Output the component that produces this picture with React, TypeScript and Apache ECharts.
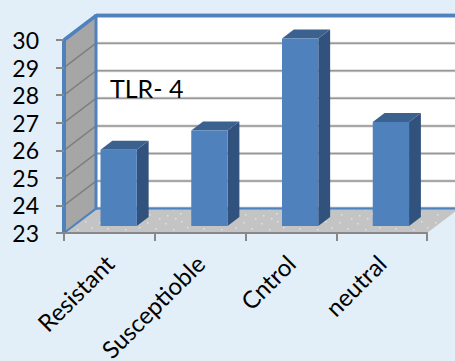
import React, { useEffect, useRef } from "react";
import * as echarts from "echarts";

const categories = ["Resistant", "Susceptioble", "Cntrol", "neutral"];
const tlr4Values = [25.76, 26.46, 29.8, 26.77];
const yTicks = [24, 25, 26, 27, 28, 29];
const yMin = 23;
const yMax = 30;
const chartTitle = "TLR- 4";

const DEPTH_X = 32;
const DEPTH_Y = -24.4;
const BAR_NEAR = 0.29;
const BAR_SPAN = 0.37;
const BAR_WIDTH_RATIO = 0.4;

const BLUE = "#4f81bd";
const HALO = "#a9c4e2";
const FONT = "Lato, Carlito, sans-serif";

function floorPattern() {
  const c = document.createElement("canvas");
  c.width = 48;
  c.height = 20;
  const g = c.getContext("2d") as CanvasRenderingContext2D;
  g.fillStyle = "#c4c4c4";
  g.fillRect(0, 0, 48, 20);
  g.fillStyle = "rgba(232,232,232,0.85)";
  const dots = [[3, 2], [21, 3], [37, 1], [11, 8], [29, 9], [43, 7], [5, 14], [23, 15], [36, 13], [15, 18], [31, 18]];
  dots.forEach(([x, y]) => g.fillRect(x, y, 1.5, 1.5));
  return c;
}

export default function App() {
  const ref = useRef<HTMLDivElement>(null);
  useEffect(() => {
    document.body.style.margin = "0";
    const chart = echarts.init(ref.current as HTMLDivElement, undefined, { renderer: "svg" });
    const pattern = floorPattern();

    const renderWalls = (params: any, api: any) => {
      const cs = params.coordSys;
      const l = cs.x, r = cs.x + cs.width, t = cs.y, b = cs.y + cs.height;
      const dx = DEPTH_X, dy = DEPTH_Y;
      const poly = (points: number[][], style: any) => ({ type: "polygon", shape: { points }, style });
      return {
        type: "group",
        children: [
          poly([[l + dx, t + dy], [r + dx, t + dy], [r + dx, b + dy], [l + dx, b + dy]], { fill: "#ffffff" }),
          poly([[l, t], [l + dx, t + dy], [l + dx, b + dy], [l, b]], { fill: "#a6a6a6" }),
          poly([[l, b], [l + dx, b + dy], [r + dx, b + dy], [r, b]], { fill: { image: pattern, repeat: "repeat" } }),
        ],
      };
    };

    const renderGrid = (params: any, api: any) => {
      const cs = params.coordSys;
      const p = api.coord([0, api.value(1)]);
      const l = cs.x, r = cs.x + cs.width, y = p[1];
      return {
        type: "group",
        children: [
          { type: "line", shape: { x1: l, y1: y, x2: l + DEPTH_X, y2: y + DEPTH_Y }, style: { stroke: "#7f7f7f", lineWidth: 1.5 } },
          { type: "line", shape: { x1: l + DEPTH_X, y1: y + DEPTH_Y, x2: r + DEPTH_X, y2: y + DEPTH_Y }, style: { stroke: "#dcdcdc", lineWidth: 3 } },
          { type: "line", shape: { x1: l + DEPTH_X, y1: y + DEPTH_Y, x2: r + DEPTH_X, y2: y + DEPTH_Y }, style: { stroke: "#969696", lineWidth: 1.5 } },
        ],
      };
    };

    const renderFrame = (params: any, api: any) => {
      const cs = params.coordSys;
      const l = cs.x, r = cs.x + cs.width, t = cs.y, b = cs.y + cs.height;
      const dx = DEPTH_X, dy = DEPTH_Y;
      const seg = (x1: number, y1: number, x2: number, y2: number, stroke: string, lineWidth: number) => ({
        type: "line", shape: { x1, y1, x2, y2 }, style: { stroke, lineWidth },
      });
      return {
        type: "group",
        children: [
          seg(l + dx, b + dy, r + dx, b + dy, HALO, 3.5),
          seg(l + dx, b + dy, r + dx, b + dy, BLUE, 2),
          seg(l, b, l + dx, b + dy, BLUE, 2),
          seg(l + dx, t + dy, r + dx, t + dy, HALO, 5),
          seg(l + dx, t + dy, r + dx, t + dy, BLUE, 3),
          seg(l, t, l + dx, t + dy, BLUE, 3.5),
          seg(l + dx, t + dy - 1.5, l + dx, b + dy + 1, BLUE, 3),
          seg(l, t - 1, l, b + 1, BLUE, 4),
        ],
      };
    };

    const renderBar = (_: any, api: any) => {
      const i = api.value(0);
      const top = api.coord([i, api.value(1)]);
      const base = api.coord([i, yMin]);
      const w = api.size([1, 0])[0] * BAR_WIDTH_RATIO;
      const ox = DEPTH_X * BAR_NEAR, oy = DEPTH_Y * BAR_NEAR;
      const sx = DEPTH_X * BAR_SPAN, sy = DEPTH_Y * BAR_SPAN;
      const x0 = top[0] - w / 2 + ox, x1 = x0 + w;
      const y0 = top[1] + oy, y1 = base[1] + oy;
      return {
        type: "group",
        children: [
          { type: "polygon", shape: { points: [[x1, y0], [x1 + sx, y0 + sy], [x1 + sx, y1 + sy], [x1, y1]] }, style: { fill: "#31527c" } },
          { type: "polygon", shape: { points: [[x0, y0], [x0 + sx, y0 + sy], [x1 + sx, y0 + sy], [x1, y0]] }, style: { fill: "#3b618f" } },
          { type: "rect", shape: { x: x0, y: y0, width: w, height: y1 - y0 }, style: { fill: BLUE } },
        ],
      };
    };

    chart.setOption({
      animation: false,
      backgroundColor: "#e2eff8",
      grid: { left: 64, right: 28, top: 40, bottom: 128, containLabel: false, outerBoundsMode: "none" },
      xAxis: {
        type: "category",
        data: categories,
        boundaryGap: true,
        z: 10,
        axisLine: { show: true, lineStyle: { color: "#888888", width: 2 } },
        axisTick: { show: true, length: 8, lineStyle: { color: "#888888", width: 2 } },
        axisLabel: { rotate: 45, interval: 0, margin: 26, fontFamily: FONT, fontSize: 24, color: "#000000" },
        splitLine: { show: false },
      },
      yAxis: {
        type: "value",
        min: yMin,
        max: yMax,
        interval: 1,
        z: 10,
        axisLine: { show: false },
        axisTick: { show: true, length: 8, lineStyle: { color: "#888888", width: 2 } },
        axisLabel: { margin: 25, fontFamily: FONT, fontSize: 23, color: "#000000" },
        splitLine: { show: false },
      },
      graphic: [
        { type: "text", left: 110, top: 75, z: 20, style: { text: chartTitle, fontFamily: FONT, fontSize: 25, fill: "#000000" } },
      ],
      series: [
        { type: "custom", z: 1, silent: true, clip: false, data: [[0, yMin]], encode: { x: 0, y: 1 }, renderItem: renderWalls },
        { type: "custom", z: 2, silent: true, clip: false, data: yTicks.map((t) => [0, t]), encode: { x: 0, y: 1 }, renderItem: renderGrid },
        { type: "custom", z: 3, silent: true, clip: false, data: [[0, yMin]], encode: { x: 0, y: 1 }, renderItem: renderFrame },
        { type: "custom", z: 4, silent: true, clip: false, data: tlr4Values.map((v, i) => [i, v]), encode: { x: 0, y: 1 }, renderItem: renderBar },
      ],
    });
    return () => chart.dispose();
  }, []);
  return <div ref={ref} style={{ width: 455, height: 361 }} />;
}
